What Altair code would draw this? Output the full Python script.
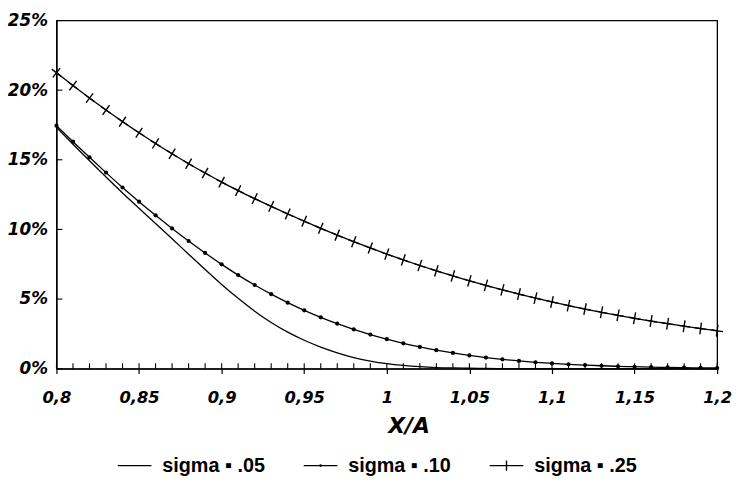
import math
import altair as alt
import pandas as pd

# ---- data ----
X = [0.80, 0.81, 0.82, 0.83, 0.84, 0.85, 0.86, 0.87, 0.88, 0.89,
     0.90, 0.91, 0.92, 0.93, 0.94, 0.95, 0.96, 0.97, 0.98, 0.99,
     1.00, 1.01, 1.02, 1.03, 1.04, 1.05, 1.06, 1.07, 1.08, 1.09,
     1.10, 1.11, 1.12, 1.13, 1.14, 1.15, 1.16, 1.17, 1.18, 1.19, 1.20]

SIGMA_05 = [17.33, 16.12, 14.93, 13.76, 12.62, 11.52, 10.42, 9.33, 8.22, 7.12,
            6.05, 5.05, 4.13, 3.32, 2.62, 2.04, 1.55, 1.14, 0.80, 0.55,
            0.36, 0.23, 0.14, 0.08, 0.05, 0.03, 0.02, 0.01, 0.01, 0.0,
            0.0, 0.0, 0.0, 0.0, 0.0, 0.0, 0.0, 0.0, 0.0, 0.0, 0.0]

SIGMA_10 = [17.45, 16.30, 15.18, 14.08, 13.01, 11.99, 11.01, 10.07, 9.17, 8.31,
            7.49, 6.72, 6.01, 5.35, 4.74, 4.19, 3.69, 3.23, 2.82, 2.45,
            2.12, 1.82, 1.56, 1.33, 1.13, 0.95, 0.80, 0.67, 0.56, 0.46,
            0.38, 0.31, 0.26, 0.21, 0.17, 0.14, 0.11, 0.09, 0.07, 0.06, 0.05]

SIGMA_25 = [21.25, 20.33, 19.43, 18.57, 17.74, 16.94, 16.17, 15.43, 14.72, 14.05,
            13.40, 12.79, 12.21, 11.65, 11.11, 10.59, 10.08, 9.59, 9.12, 8.67,
            8.23, 7.81, 7.41, 7.03, 6.66, 6.31, 5.98, 5.66, 5.36, 5.07,
            4.79, 4.53, 4.28, 4.05, 3.83, 3.62, 3.42, 3.23, 3.05, 2.88, 2.72]

SERIES = ["sigma \u25aa .05", "sigma \u25aa .10", "sigma \u25aa .25"]
X_TICKS = [0.8, 0.85, 0.9, 0.95, 1.0, 1.05, 1.1, 1.15, 1.2]
Y_TICKS = [0, 5, 10, 15, 20, 25]

# ---- layout constants ----
W, H = 668, 352
XDOM = [0.8, 1.2]
YDOM = [0, 25]
PX_X = W / (XDOM[1] - XDOM[0])
PX_Y = H / (YDOM[1] - YDOM[0])

rows = []
for name, vals in zip(SERIES, [SIGMA_05, SIGMA_10, SIGMA_25]):
    for i, (x, y) in enumerate(zip(X, vals)):
        i0, i1 = max(i - 1, 0), min(i + 1, len(X) - 1)
        dx = (X[i1] - X[i0]) * PX_X
        dy = (vals[i0] - vals[i1]) * PX_Y
        ang = math.degrees(math.atan2(dy, dx)) % 360
        rows.append({"x": x, "y": y, "series": name, "ang": ang})
df = pd.DataFrame(rows)

xscale = alt.Scale(domain=XDOM, nice=False, zero=False)
yscale = alt.Scale(domain=YDOM, nice=False, zero=False)

FONT = "DejaVu Sans"

x_axis = alt.Axis(
    values=X_TICKS,
    labelExpr="replace(format(datum.value, '.2~f'), '.', ',')",
    tickSize=5, tickColor="black", tickWidth=1.2,
    domainColor="black", domainWidth=1.3,
    labelFont=FONT, labelFontStyle="italic", labelFontWeight="bold",
    labelFontSize=16.5, labelColor="black", labelPadding=16,
    labelFlush=False, labelOverlap=False, grid=False,
    title="X/A", titleFont=FONT, titleFontStyle="italic", titleFontWeight="bold",
    titleFontSize=22, titleColor="black", titleX=356, titleY=58,
    titleBaseline="middle", titleAnchor="middle",
)
y_axis = alt.Axis(
    values=Y_TICKS,
    labelExpr="datum.value + '%'",
    ticks=False, domainColor="black", domainWidth=1.3,
    labelFont=FONT, labelFontStyle="italic", labelFontWeight="bold",
    labelFontSize=17, labelColor="black", labelPadding=9,
    labelFlush=False, grid=False, title=None,
)

base = alt.Chart(df)

lines = base.mark_line(color="black", strokeWidth=1.3, interpolate="monotone").encode(
    x=alt.X("x:Q", scale=xscale, axis=x_axis),
    y=alt.Y("y:Q", scale=yscale, axis=y_axis),
    detail="series:N",
)

dots = base.transform_filter(alt.datum.series == SERIES[1]).mark_circle(
    size=18, color="black", opacity=1
).encode(
    x=alt.X("x:Q", scale=xscale),
    y=alt.Y("y:Q", scale=yscale),
)

plus = base.transform_filter(alt.datum.series == SERIES[2]).mark_point(
    shape="M-1,0H1M0,-1V1", size=144, color="black", strokeWidth=1.4,
    filled=False, opacity=1,
).encode(
    x=alt.X("x:Q", scale=xscale),
    y=alt.Y("y:Q", scale=yscale),
    angle=alt.Angle("ang:Q", scale=None),
)

# inward minor ticks on the x axis (every 0.01) and inward y ticks
xt = pd.DataFrame({"x": X, "y0": [0.0] * len(X), "y1": [5.5 / PX_Y] * len(X)})
xticks = alt.Chart(xt).mark_rule(color="black", strokeWidth=1.1).encode(
    x=alt.X("x:Q", scale=xscale),
    y=alt.Y("y0:Q", scale=yscale),
    y2="y1:Q",
)
yt = pd.DataFrame({"y": Y_TICKS, "x0": [XDOM[0]] * len(Y_TICKS),
                   "x1": [XDOM[0] + 6 / PX_X] * len(Y_TICKS)})
yticks = alt.Chart(yt).mark_rule(color="black", strokeWidth=1.1).encode(
    y=alt.Y("y:Q", scale=yscale),
    x=alt.X("x0:Q", scale=xscale),
    x2="x1:Q",
)

# legend-only layer (points fall outside the domain and are clipped away)
LEG_PATHS = [
    "M-1,0H1",
    "M-1,0H1M-0.04,0A0.04,0.04,0,1,1,0.04,0A0.04,0.04,0,1,1,-0.04,0Z",
    "M-1,0H1M0,-0.3V0.3",
]
leg_df = pd.DataFrame({"series": SERIES, "x": [0.5] * 3, "y": [10.0] * 3})
legend_layer = alt.Chart(leg_df).mark_point(
    filled=False, size=1156, color="black", strokeWidth=1.4, clip=True, opacity=1
).encode(
    x=alt.X("x:Q", scale=xscale),
    y=alt.Y("y:Q", scale=yscale),
    shape=alt.Shape(
        "series:N",
        scale=alt.Scale(domain=SERIES, range=LEG_PATHS),
        legend=alt.Legend(
            title=None, orient="none", legendX=61, legendY=432,
            direction="horizontal", columns=3,
            labelFont="Liberation Sans", labelFontSize=20, labelFontWeight="bold",
            labelColor="black", labelOffset=10, columnPadding=36,
            symbolSize=1156, symbolStrokeWidth=1.4, symbolStrokeColor="black",
            symbolOpacity=1, padding=0, offset=0,
        ),
    ),
)

chart = alt.layer(lines, dots, plus, xticks, yticks, legend_layer).properties(
    width=W, height=H,
    autosize=alt.AutoSizeParams(type="none"),
    padding={"left": 49, "top": 10, "right": 15, "bottom": 120},
    background="white",
).configure_view(stroke="black", strokeWidth=1.3)

chart.save("out.html", embed_options={"renderer": "svg", "actions": False})
